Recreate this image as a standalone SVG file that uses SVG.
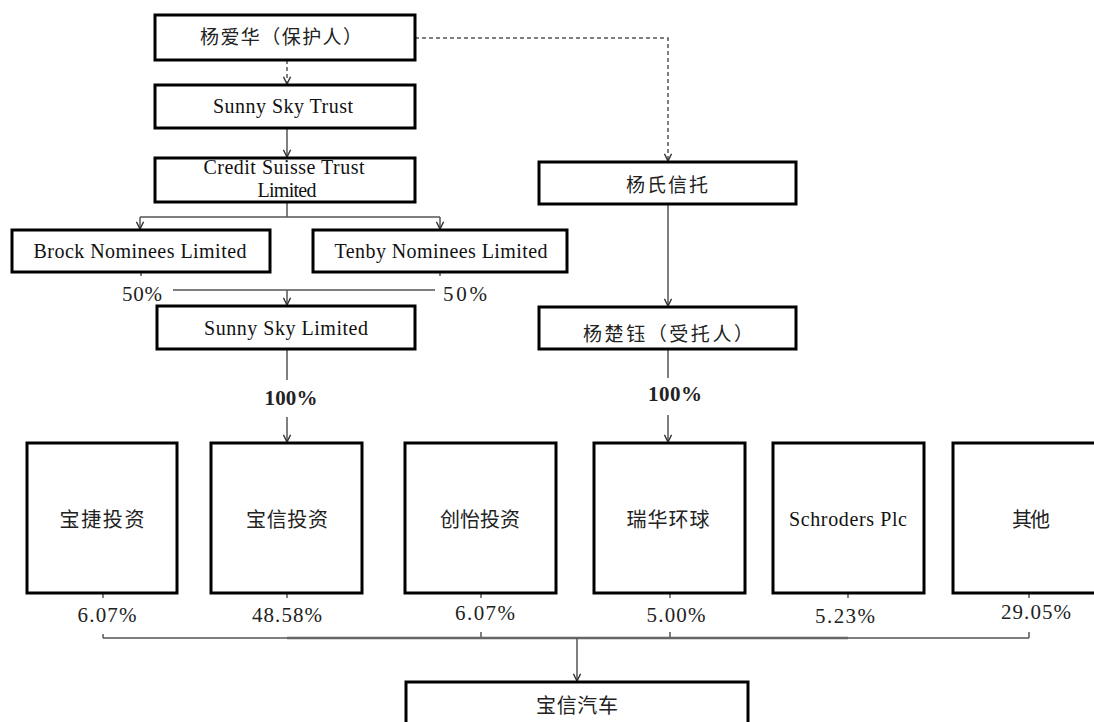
<svg xmlns="http://www.w3.org/2000/svg" width="1094" height="722" viewBox="0 0 1094 722">
<style>
.box{fill:#fff;stroke:#000;stroke-width:3}
.zh{font-family:"Noto Sans CJK SC","Noto Sans",sans-serif;font-size:19px;fill:#222;text-anchor:middle}
.zb{font-size:20px}
.en{font-family:"Liberation Serif",serif;font-size:20px;fill:#111;text-anchor:middle}
.pct{font-family:"Liberation Serif",serif;font-size:21px;fill:#222;text-anchor:middle}
.b{font-weight:bold}
.ln{fill:none;stroke:#555;stroke-width:1.5}
.dash{fill:none;stroke:#555;stroke-width:1.5;stroke-dasharray:4 3}
</style>
<defs>
<marker id="ah" viewBox="0 0 10 10" refX="9" refY="5" markerWidth="9" markerHeight="9" markerUnits="userSpaceOnUse" orient="auto">
<path d="M1,1 L9,5 L1,9" fill="none" stroke="#333" stroke-width="1.6"/>
</marker>
</defs>
<rect width="1094" height="722" fill="#fff"/>
<g id="connectors">
<path class="dash" d="M287,60 V84" marker-end="url(#ah)"/>
<path class="dash" d="M415,38 H668 V161" marker-end="url(#ah)"/>
<path class="ln" d="M287,128 V157" marker-end="url(#ah)"/>
<path class="ln" d="M287,202 V217 M140,217 H440"/>
<path class="ln" d="M140,217 V229" marker-end="url(#ah)"/>
<path class="ln" d="M440,217 V229" marker-end="url(#ah)"/>
<path class="ln" d="M141,272 V276 M440,272 V276 M173,290 H435"/>
<path class="ln" d="M287,290 V305" marker-end="url(#ah)"/>
<path class="ln" d="M287,349 V380"/>
<path class="ln" d="M287,417 V442" marker-end="url(#ah)"/>
<path class="ln" d="M668,204 V306" marker-end="url(#ah)"/>
<path class="ln" d="M668,349 V378"/>
<path class="ln" d="M668,415 V442" marker-end="url(#ah)"/>
<path class="ln" d="M103,594 V598 M287,594 V598 M481,594 V598 M670,594 V598 M848,594 V598 M1029,594 V598"/>
<path class="ln" d="M103,638 H1029 M103,634 V638 M481,632 V638 M670,632 V638 M1029,632 V638"/>
<path d="M287,638 H848" fill="none" stroke="#666" stroke-width="2.5"/>
<path class="ln" d="M577,638 V681" marker-end="url(#ah)"/>
</g>
<g id="n-yangaihua"><rect class="box" x="155" y="15" width="260" height="45"/><text class="zh" x="281" y="44" textLength="162">杨爱华（保护人）</text></g>
<g id="n-sunnyskytrust"><rect class="box" x="155" y="85" width="260" height="43"/><text class="en" x="283" y="113" textLength="140">Sunny Sky Trust</text></g>
<g id="n-creditsuisse"><rect class="box" x="155" y="158" width="260" height="44"/><text class="en" x="284" y="174" textLength="161">Credit Suisse Trust</text><text class="en" x="287" y="197" textLength="59">Limited</text></g>
<g id="n-brock"><rect class="box" x="12" y="230" width="258" height="42"/><text class="en" x="140" y="258" textLength="213">Brock Nominees Limited</text></g>
<g id="n-tenby"><rect class="box" x="313" y="230" width="254" height="42"/><text class="en" x="441" y="258" textLength="213">Tenby Nominees Limited</text></g>
<g id="n-sunnyskylimited"><rect class="box" x="157" y="306" width="258" height="43"/><text class="en" x="286" y="335" textLength="164">Sunny Sky Limited</text></g>
<g id="n-yangtrust"><rect class="box" x="539" y="162" width="257" height="42"/><text class="zh" x="667" y="192" textLength="82">杨氏信托</text></g>
<g id="n-yangchuyu"><rect class="box" x="539" y="307" width="257" height="42"/><text class="zh" x="668" y="341" textLength="170">杨楚钰（受托人）</text></g>
<g id="labels">
<text class="pct" x="142" y="301" textLength="40">50%</text>
<text class="pct" x="465" y="301" textLength="44">50%</text>
<text class="pct b" x="291" y="405" textLength="53">100%</text>
<text class="pct b" x="675" y="401" textLength="54">100%</text>
<text class="pct" x="107" y="622" textLength="59">6.07%</text>
<text class="pct" x="287" y="622" textLength="70">48.58%</text>
<text class="pct" x="485" y="620" textLength="60">6.07%</text>
<text class="pct" x="676" y="622" textLength="59">5.00%</text>
<text class="pct" x="845" y="623" textLength="60">5.23%</text>
<text class="pct" x="1036" y="619" textLength="70">29.05%</text>
</g>
<g id="n-baojie"><rect class="box" x="27" y="443" width="150" height="150"/><text class="zh zb" x="102" y="527" textLength="85">宝捷投资</text></g>
<g id="n-baoxintouzi"><rect class="box" x="211" y="443" width="151" height="150"/><text class="zh zb" x="287" y="527" textLength="82">宝信投资</text></g>
<g id="n-chuangyi"><rect class="box" x="405" y="443" width="151" height="150"/><text class="zh zb" x="480" y="527" textLength="80">创怡投资</text></g>
<g id="n-ruihua"><rect class="box" x="594" y="443" width="151" height="150"/><text class="zh zb" x="668" y="527" textLength="83">瑞华环球</text></g>
<g id="n-schroders"><rect class="box" x="773" y="443" width="151" height="150"/><text class="en" x="848" y="526" textLength="118">Schroders Plc</text></g>
<g id="n-others"><rect class="box" x="953" y="443" width="152" height="150"/><text class="zh zb" x="1031" y="527" textLength="38">其他</text></g>
<g id="n-baoxinauto"><rect class="box" x="406" y="682" width="342" height="60"/><text class="zh zb" x="577" y="713" textLength="82">宝信汽车</text></g>
</svg>
